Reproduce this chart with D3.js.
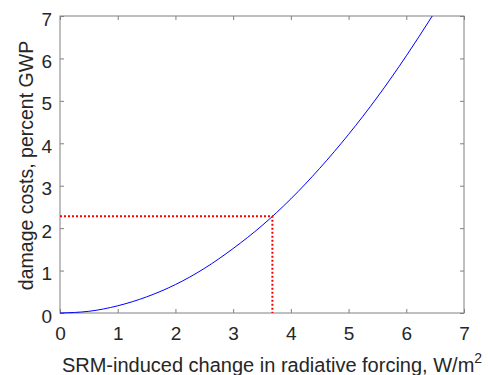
<!DOCTYPE html>
<html>
<head>
<meta charset="utf-8">
<script src="https://d3js.org/d3.v7.min.js"></script>
<style>
  body { margin: 0; background: #fff; }
  text { font-family: "Liberation Sans", Arial, sans-serif; fill: #262626; }
</style>
</head>
<body>
<div id="chart"></div>
<script>
// forcing change (W/m2) and damage (percent GWP)
var forcing = [0, 0.5, 1, 1.5, 2, 2.5, 3, 3.5, 4, 4.5, 5, 5.5, 6, 6.45];
var damage = [0, 0.04, 0.17, 0.38, 0.67, 1.05, 1.52, 2.06, 2.69, 3.41, 4.21, 5.09, 6.06, 7.0];
var marker = { x: 3.68, y: 2.28 };
var xTicks = [0, 1, 2, 3, 4, 5, 6, 7];
var yTicks = [0, 1, 2, 3, 4, 5, 6, 7];

var margin = { top: 16, right: 24, bottom: 62, left: 60 };
var width = 488 - margin.left - margin.right,
  height = 375 - margin.top - margin.bottom;

var svg = d3.select("#chart").append("svg")
  .attr("width", 488)
  .attr("height", 375)
  .append("g")
  .attr("transform", "translate(" + margin.left + "," + margin.top + ")");

var x = d3.scaleLinear().domain([0, 7]).range([0, width]);
var y = d3.scaleLinear().domain([0, 7]).range([height, 0]);
var fmt = d3.format("d");

// axes with inward ticks on all sides
function styleAxis(g) {
  g.selectAll(".domain").remove();
  g.selectAll(".tick line").attr("stroke", "#808080");
  g.selectAll("text").style("font-size", "19px").attr("fill", "#262626");
}
svg.append("g")
  .attr("transform", "translate(0," + height + ")")
  .call(d3.axisBottom(x).tickValues(xTicks).tickFormat(fmt).tickSizeInner(-4).tickSizeOuter(0).tickPadding(14))
  .call(styleAxis);
svg.append("g")
  .call(d3.axisLeft(y).tickValues(yTicks).tickFormat(fmt).tickSizeInner(-4).tickSizeOuter(0).tickPadding(8))
  .call(styleAxis)
  .selectAll("text").attr("dy", "0.48em");
svg.append("g")
  .call(d3.axisTop(x).tickValues(xTicks).tickSizeInner(-4).tickSizeOuter(0).tickFormat(""))
  .call(styleAxis);
svg.append("g")
  .attr("transform", "translate(" + width + ",0)")
  .call(d3.axisRight(y).tickValues(yTicks).tickSizeInner(-4).tickSizeOuter(0).tickFormat(""))
  .call(styleAxis);

svg.append("rect")
  .attr("width", width)
  .attr("height", height)
  .attr("fill", "none")
  .attr("stroke", "#808080")
  .attr("stroke-width", 1);

var pts = forcing.map(function (f, i) { return [f, damage[i]]; });
var line = d3.line()
  .x(function (d) { return x(d[0]); })
  .y(function (d) { return y(d[1]); })
  .curve(d3.curveMonotoneX);

svg.append("path")
  .datum(pts)
  .attr("d", line)
  .attr("fill", "none")
  .attr("stroke", "#0000ff")
  .attr("stroke-width", 1);

// dotted guide lines
svg.append("path")
  .attr("d", d3.line()([[x(0), y(marker.y)], [x(marker.x), y(marker.y)], [x(marker.x), y(0)]]))
  .attr("fill", "none")
  .attr("stroke", "#ff0000")
  .attr("stroke-width", 2)
  .attr("stroke-dasharray", "2,2");

// axis labels
svg.append("text")
  .attr("x", width / 2 + 10)
  .attr("y", height + 59)
  .attr("text-anchor", "middle")
  .style("font-size", "20px")
  .html("SRM-induced change in radiative forcing, W/m<tspan dy='-9' style='font-size:14px'>2</tspan>");

svg.append("text")
  .attr("transform", "translate(-27," + (height / 2 + 1) + ") rotate(-90)")
  .attr("text-anchor", "middle")
  .style("font-size", "19.5px")
  .text("damage costs, percent GWP");
</script>
</body>
</html>
